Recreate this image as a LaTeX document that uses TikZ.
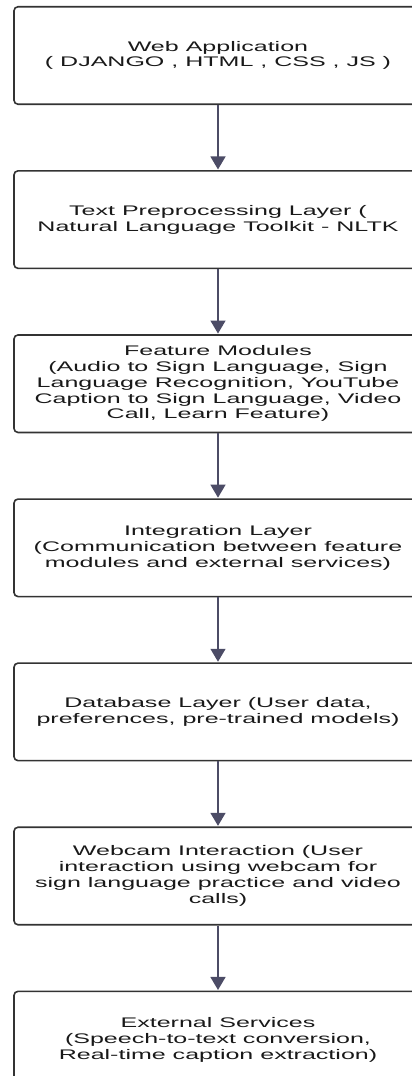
\documentclass[tikz,border=0pt]{standalone}
\usepackage{fontspec}
\usetikzlibrary{positioning, arrows.meta}

% wide sans face used in the boxes
\newfontfamily\layerfont[FakeStretch=1.8]{Liberation Sans}

\tikzset{
	layer/.style={draw=black!80, line width=1.6pt, rounded corners=4pt,
		minimum width=408pt, minimum height=97.5pt, inner sep=0pt,
		align=center, text=black!90,
		font=\layerfont\fontsize{13.9pt}{15.8pt}\selectfont},
	flow/.style={draw=black!75!blue!40!gray, line width=1.4pt,
		-{Triangle[width=15pt, length=13pt]}, shorten >=0.6pt}
}

\begin{document}
\begin{tikzpicture}[x=1pt, y=1pt, node distance=65pt]

	\useasboundingbox (0, 0) rectangle (412, -1076);
	\clip (0, 0) rectangle (412, -1076);

	% the layers, top to bottom
	\node[layer] (web) at (218, -55.5) {Web Application\\( DJANGO , HTML , CSS , JS )};
	\node[layer, below=of web] (nltk) {Text Preprocessing Layer (\\Natural Language Toolkit - NLTK};
	\node[layer, below=of nltk] (features) {Feature Modules\\(Audio to Sign Language, Sign\\Language Recognition, YouTube\\Caption to Sign Language, Video\\Call, Learn Feature)};
	\node[layer, below=of features] (integration) {Integration Layer\\(Communication between feature\\modules and external services)};
	\node[layer, below=of integration] (database) {Database Layer (User data,\\preferences, pre-trained models)};
	\node[layer, below=of database] (webcam) {Webcam Interaction (User\\interaction using webcam for\\sign language practice and video\\calls)};
	\node[layer, below=of webcam] (external) {External Services\\(Speech-to-text conversion,\\Real-time caption extraction)};

	% arrows between layers
	\foreach \a/\b in {web/nltk, nltk/features, features/integration,
		integration/database, database/webcam, webcam/external} {
		\draw[flow] (\a) -- (\b);
	}

\end{tikzpicture}
\end{document}
